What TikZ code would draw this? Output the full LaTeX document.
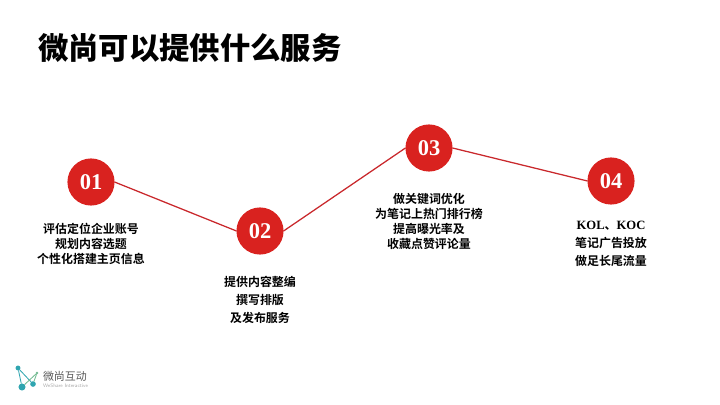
\documentclass[tikz,border=0pt]{standalone}
\usepackage{fontspec}
\setmainfont{Liberation Serif}
\newfontfamily\cjk{Noto Sans CJK SC}
\newfontfamily\cjkbold{Noto Sans CJK SC Bold}
\newfontfamily\cjkblack{Noto Sans CJK SC Black}
\usetikzlibrary{positioning}
\definecolor{stepred}{HTML}{D9221F}
\definecolor{linered}{HTML}{C9282C}
\definecolor{logoteal}{HTML}{2FA5B0}
\definecolor{logogreen}{HTML}{6FB98F}
\tikzset{every path/.style={line width=0.9pt}, every node/.style={inner sep=0pt, outer sep=0pt}}
\tikzset{stepdot/.style={circle, fill=stepred, minimum size=33.5pt, text=white, font=\bfseries\fontsize{16}{16}\selectfont},
  tight/.style={align=center, font=\cjkbold\fontsize{8.5}{10.7}\selectfont},
  loose/.style={align=center, font=\cjkbold\fontsize{8.5}{13}\selectfont},
  link/.style={linered},
  logolink/.style={line width=0.6pt},
  logodot/.style={circle, fill=logoteal}}
\newcommand{\latinbold}[1]{{\rmfamily\bfseries\fontsize{9}{13}\selectfont #1}}

\begin{document}
\begin{tikzpicture}[x=0.025cm, y=-0.025cm]
  \useasboundingbox (0,0) rectangle (720,405);
  \node[anchor=west, font=\cjkblack\fontsize{21.6}{24}\selectfont] (title) at (38,48) {微尚可以提供什么服务};
  \node[stepdot] (a) at ( 91,182) {01};
  \node[stepdot] (b) at (260,231) {02};
  \node[stepdot] (c) at (429,148) {03};
  \node[stepdot] (d) at (611,181) {04};
  \draw[link] (a.east) -- (b.west);
  \draw[link] (b.east) -- (c.west);
  \draw[link] (c.east) -- (d.west);
  \node[tight] (atext) at ( 91,243.5) {评估定位企业账号\\规划内容选题\\个性化搭建主页信息};
  \node[loose] (btext) at (260,300) {提供内容整编\\撰写排版\\及发布服务};
  \node[tight] (ctext) at (429,221.5) {做关键词优化\\为笔记上热门排行榜\\提高曝光率及\\收藏点赞评论量};
  \node[loose] (dtext) at (611,244) {\latinbold{KOL}、\latinbold{KOC}\\笔记广告投放\\做足长尾流量};
  % logo
  \node[logodot, minimum size=3.5pt] (l1) at (18,368) {};
  \node[logodot, minimum size=5pt] (l2) at (22,387) {};
  \node[logodot, minimum size=4pt] (l3) at (33,384) {};
  \node[circle, fill=logogreen, minimum size=2pt] (l4) at (37,373) {};
  \draw[logolink, logoteal] (l1) -- (l2);
  \draw[logolink, logoteal] (l1) -- (l3);
  \draw[logolink, logogreen] (l2) -- (l4);
  \draw[logolink, logogreen] (l3) -- (l4);
  \node[anchor=west, text=black!65, font=\cjk\fontsize{7.8}{9}\selectfont] (logoname) at (43,376) {微尚互动};
  \node[anchor=west, text=black!35, font=\sffamily\fontsize{3.6}{4}\selectfont] (logosub) at (43,386) {WeShare Interactive};
\end{tikzpicture}
\end{document}
